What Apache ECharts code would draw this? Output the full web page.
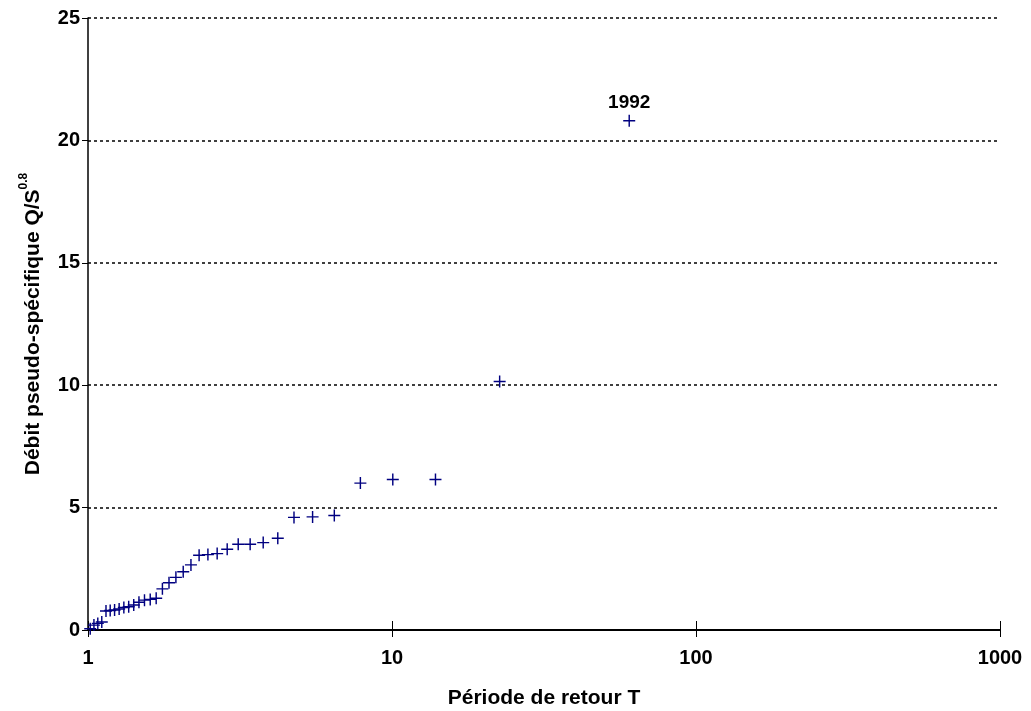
<!DOCTYPE html>
<html>
<head>
<meta charset="utf-8">
<script src="https://cdn.jsdelivr.net/npm/echarts@6/dist/echarts.min.js"></script>
<style>
html,body{margin:0;padding:0;background:#fff;}
#chart{width:1031px;height:711px;}
</style>
</head>
<body>
<div id="chart"></div>
<script>
// Return period T (x) and pseudo-specific discharge Q/S^0.8 (y)
const returnPeriods = [1.017, 1.046, 1.077, 1.110, 1.146, 1.183, 1.223, 1.266, 1.312, 1.361,
  1.414, 1.471, 1.534, 1.602, 1.676, 1.757, 1.847, 1.946, 2.057, 2.181,
  2.32, 2.48, 2.66, 2.87, 3.12, 3.415, 3.77, 4.21, 4.76, 5.48,
  6.46, 7.87, 10.06, 13.9, 22.6, 60.3];
const discharges = [0.05, 0.2, 0.27, 0.33, 0.78, 0.8, 0.82, 0.86, 0.92, 0.95,
  1.02, 1.13, 1.22, 1.25, 1.3, 1.68, 1.93, 2.15, 2.38, 2.66,
  3.05, 3.08, 3.12, 3.3, 3.5, 3.5, 3.57, 3.75, 4.6, 4.62,
  4.68, 6.0, 6.15, 6.15, 10.15, 20.8];
const labelledIndex = 35;
const labelledYear = '1992';
const xTicks = [1, 10, 100, 1000];
const yTicks = [0, 5, 10, 15, 20, 25];

const font = '"Liberation Sans", Arial, sans-serif';
const data = returnPeriods.map((t, i) => {
  const item = { value: [t, discharges[i]] };
  if (i === labelledIndex) {
    item.label = {
      show: true, position: 'top', distance: 3, formatter: labelledYear,
      fontFamily: font, fontWeight: 'bold', fontSize: 19, color: '#000'
    };
  }
  return item;
});

const chart = echarts.init(document.getElementById('chart'), null, { renderer: 'canvas' });
const plusPath = 'path://M4.4,0H5.6V4.4H10V5.6H5.6V10H4.4V5.6H0V4.4H4.4Z';
chart.setOption({
  animation: false,
  backgroundColor: '#fff',
  grid: { left: 88, right: 31, top: 18, bottom: 81, containLabel: false, outerBoundsMode: 'none' },
  xAxis: [{
    type: 'log', logBase: 10, min: 1, max: 1000,
    name: 'Période de retour T', nameLocation: 'middle', nameGap: 58,
    nameTextStyle: { fontFamily: font, fontWeight: 'bold', fontSize: 21, color: '#000' },
    axisLine: { lineStyle: { color: '#000', width: 2 } },
    axisTick: { show: true, length: 7, lineStyle: { color: '#000', width: 1 } },
    axisLabel: { fontFamily: font, fontWeight: 'bold', fontSize: 20, color: '#000', margin: 18,
      formatter: v => (xTicks.indexOf(Math.round(v)) >= 0 ? String(Math.round(v)) : '') },
    splitLine: { show: false },
    minorTick: { show: false }
  }, {
    type: 'log', logBase: 10, min: 1, max: 1000, position: 'bottom',
    axisLine: { show: false },
    axisTick: { show: true, inside: true, length: 9, lineStyle: { color: '#000', width: 1 } },
    axisLabel: { show: false },
    splitLine: { show: false }
  }],
  yAxis: {
    type: 'value', min: 0, max: 25, interval: 5,
    name: 'Débit pseudo-spécifique Q/S{sup|0.8}', nameLocation: 'middle', nameGap: 40, nameRotate: 90,
    nameTextStyle: { fontFamily: font, fontWeight: 'bold', fontSize: 21, color: '#000',
      rich: { sup: { fontFamily: font, fontWeight: 'bold', fontSize: 12, color: '#000', verticalAlign: 'top', lineHeight: 30 } } },
    axisLine: { show: true, lineStyle: { color: '#000', width: 1.5 } },
    axisTick: { show: true, length: 6, lineStyle: { color: '#000', width: 1 } },
    axisLabel: { fontFamily: font, fontWeight: 'bold', fontSize: 20, color: '#000', margin: 8,
      formatter: v => (yTicks.indexOf(v) >= 0 ? String(v) : '') },
    splitLine: { show: true, lineStyle: { color: '#000', width: 1.5, type: [3, 3] } }
  },
  series: [{
    type: 'scatter', xAxisIndex: 0,
    symbol: plusPath, symbolSize: 12,
    itemStyle: { color: '#000080', opacity: 1 },
    data: data
  }]
});
</script>
</body>
</html>
